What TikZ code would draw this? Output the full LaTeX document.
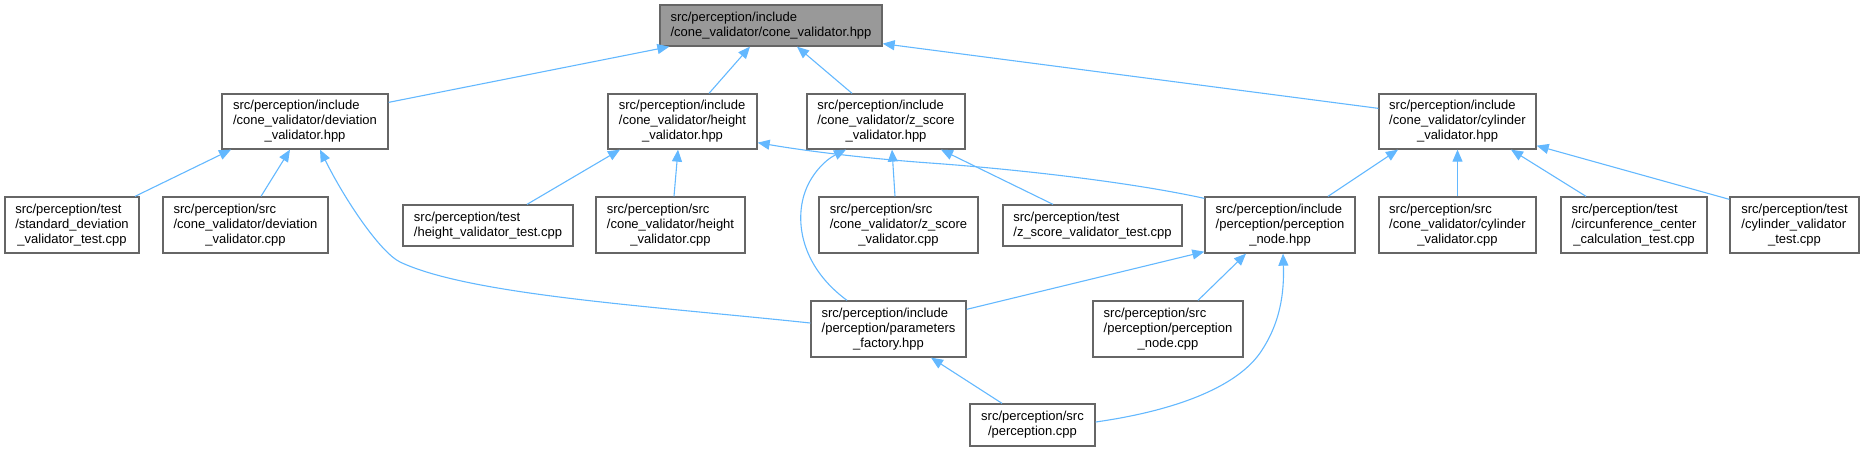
\documentclass[tikz,border=0pt]{standalone}
\usepackage{fontspec}
\setmainfont{Liberation Sans}
\usetikzlibrary{arrows.meta,calc}
\definecolor{edgeblue}{HTML}{63B8FF}
\definecolor{boxgray}{HTML}{666666}
\definecolor{rootfill}{HTML}{999999}
\newcommand{\lbl}[2]{\begin{tabular}{@{}l@{}}#1\\\multicolumn{1}{@{}c@{}}{#2}\end{tabular}}
\begin{document}
\begin{tikzpicture}[x=1pt,y=-1pt,
  box/.style={draw=boxgray, line width=1.3pt, fill=white, inner sep=0pt,
    font=\fontsize{13}{15}\selectfont, text=black},
  edge/.style={draw=edgeblue, line width=1.1pt, -{Triangle[length=12pt,width=10pt]}}]
\useasboundingbox (0,0) rectangle (1865,451);

% row 0
\node[box, fill=rootfill, minimum width=222pt, minimum height=41pt] (root) at (771,25.5)
  {\lbl{src/perception/include}{/cone\_validator/cone\_validator.hpp}};
% row 1
\node[box, minimum width=166pt, minimum height=55pt] (dev) at (305,121.5)
  {\lbl{src/perception/include\\/cone\_validator/deviation}{\_validator.hpp}};
\node[box, minimum width=149pt, minimum height=55pt] (height) at (682.5,121.5)
  {\lbl{src/perception/include\\/cone\_validator/height}{\_validator.hpp}};
\node[box, minimum width=158pt, minimum height=55pt] (zscore) at (886,121.5)
  {\lbl{src/perception/include\\/cone\_validator/z\_score}{\_validator.hpp}};
\node[box, minimum width=157pt, minimum height=55pt] (cyl) at (1457.5,121.5)
  {\lbl{src/perception/include\\/cone\_validator/cylinder}{\_validator.hpp}};
% row 2
\node[box, minimum width=134pt, minimum height=56pt] (stdtest) at (72,225)
  {\lbl{src/perception/test\\/standard\_deviation}{\_validator\_test.cpp}};
\node[box, minimum width=165pt, minimum height=56pt] (devcpp) at (245.5,225)
  {\lbl{src/perception/src\\/cone\_validator/deviation}{\_validator.cpp}};
\node[box, minimum width=170pt, minimum height=41pt] (heighttest) at (488,225.5)
  {\lbl{src/perception/test}{/height\_validator\_test.cpp}};
\node[box, minimum width=149pt, minimum height=56pt] (heightcpp) at (670.5,225)
  {\lbl{src/perception/src\\/cone\_validator/height}{\_validator.cpp}};
\node[box, minimum width=159pt, minimum height=56pt] (zscpp) at (898.5,225)
  {\lbl{src/perception/src\\/cone\_validator/z\_score}{\_validator.cpp}};
\node[box, minimum width=179pt, minimum height=41pt] (zstest) at (1092.5,225.5)
  {\lbl{src/perception/test}{/z\_score\_validator\_test.cpp}};
\node[box, minimum width=150pt, minimum height=56pt] (pnhpp) at (1280,225)
  {\lbl{src/perception/include\\/perception/perception}{\_node.hpp}};
\node[box, minimum width=157pt, minimum height=56pt] (cylcpp) at (1457.5,225)
  {\lbl{src/perception/src\\/cone\_validator/cylinder}{\_validator.cpp}};
\node[box, minimum width=146pt, minimum height=56pt] (circ) at (1634,225)
  {\lbl{src/perception/test\\/circunference\_center}{\_calculation\_test.cpp}};
\node[box, minimum width=129pt, minimum height=56pt] (cyltest) at (1794.5,225)
  {\lbl{src/perception/test\\/cylinder\_validator}{\_test.cpp}};
% row 3
\node[box, minimum width=155pt, minimum height=56pt] (params) at (888.5,329)
  {\lbl{src/perception/include\\/perception/parameters}{\_factory.hpp}};
\node[box, minimum width=150pt, minimum height=56pt] (pncpp) at (1168,329)
  {\lbl{src/perception/src\\/perception/perception}{\_node.cpp}};
% row 4
\node[box, minimum width=125pt, minimum height=42pt] (perc) at (1032.5,425)
  {\lbl{src/perception/src}{/perception.cpp}};

% edges (child -> included parent)
\draw[edge] ($(dev.north east)+(0,9)$) -- ($(root.south west)+(10,0)$);
\draw[edge] ($(height.north)+(26.5,0)$) -- ($(root.south)+(-21,0)$);
\draw[edge] ($(zscore.north)+(-34,0)$) -- ($(root.south)+(26,0)$);
\draw[edge] ($(cyl.north west)+(0,15)$) -- ($(root.south east)+(0,-3)$);

\draw[edge] ($(stdtest.north)+(63,0)$) -- ($(dev.south)+(-74,0)$);
\draw[edge] ($(devcpp.north)+(15.5,0)$) -- ($(dev.south)+(-15,0)$);
\draw[edge] ($(params.west)+(0,-6)$) .. controls (650,306) and (470,295) .. (400,262)
  .. controls (380,252) and (345,200) .. ($(dev.south)+(15,0)$);

\draw[edge] ($(heighttest.north)+(39,0)$) -- ($(height.south)+(-62.5,0)$);
\draw[edge] ($(heightcpp.north)+(3.5,0)$) -- ($(height.south)+(-4.5,0)$);
\draw[edge] ($(pnhpp.north west)+(0,2)$) .. controls (1120,180) and (1000,168) .. (930,163)
  .. controls (860,158) and (800,150) .. ($(height.south east)+(0,-7)$);

\draw[edge] ($(zscpp.north)+(-3.5,0)$) -- ($(zscore.south)+(6,0)$);
\draw[edge] ($(zstest.north)+(-39.5,0)$) -- ($(zscore.south)+(55,0)$);
\draw[edge] ($(params.north)+(-41.5,0)$) .. controls (803,268) and (795,225) .. (804,195)
  .. controls (810,175) and (825,160) .. ($(zscore.south)+(-40,0)$);

\draw[edge] ($(pnhpp.north)+(48,0)$) -- ($(cyl.south)+(-59.5,0)$);
\draw[edge] (cylcpp.north) -- (cyl.south);
\draw[edge] ($(circ.north)+(-48,0)$) -- ($(cyl.south)+(53.5,0)$);
\draw[edge] ($(cyltest.north west)+(0,3)$) -- ($(cyl.south east)+(0,-4)$);

\draw[edge] ($(params.north east)+(0,9)$) -- ($(pnhpp.south west)+(0,-2)$);
\draw[edge] ($(pncpp.north)+(30,0)$) -- ($(pnhpp.south)+(-34,0)$);
\draw[edge] ($(perc.east)+(0,-3)$) .. controls (1180,410) and (1240,385) .. (1262,350)
  .. controls (1283,318) and (1284,285) .. ($(pnhpp.south)+(3,0)$);
\draw[edge] ($(perc.north)+(-30.5,0)$) -- ($(params.south)+(42.5,0)$);
\end{tikzpicture}
\end{document}
